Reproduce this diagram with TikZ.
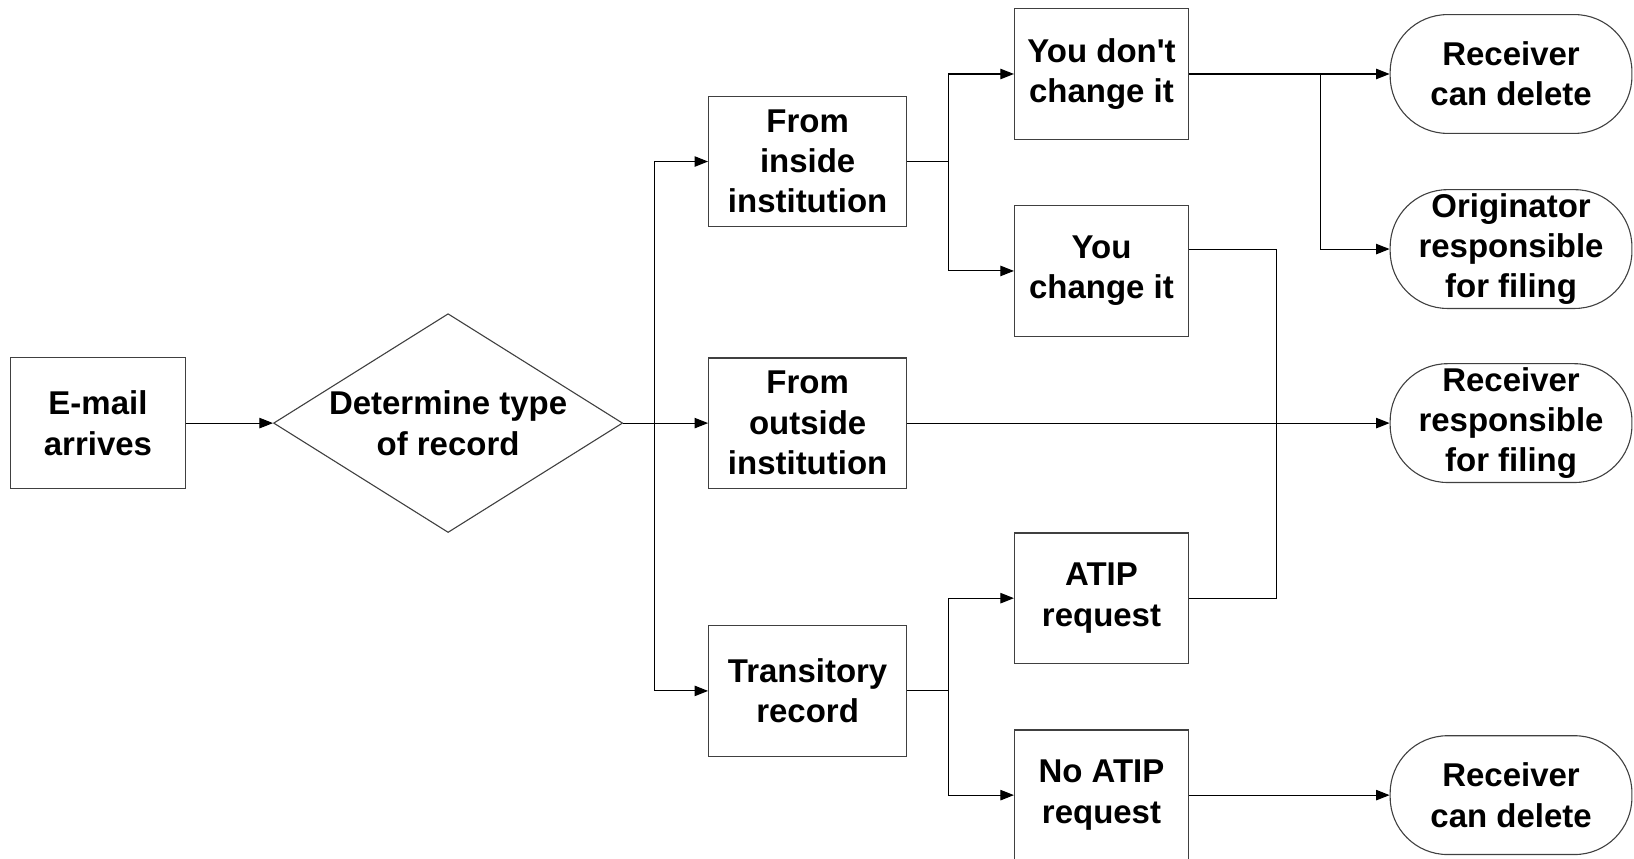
\documentclass[tikz,border=0pt]{standalone}
\usepackage{fontspec}
\setmainfont{Liberation Sans}
\usepackage{tikz}
\usetikzlibrary{arrows.meta,positioning,calc,shapes.geometric}
\definecolor{ink}{HTML}{000000}
\definecolor{rim}{HTML}{404040}
\tikzset{
  box/.style={draw=rim,line width=0.6pt,fill=white,align=center,
    font=\fontsize{18}{22}\selectfont\bfseries,
    minimum width=3.8cm,minimum height=2.5cm,inner sep=2pt},
  actbox/.style={box,minimum width=3.34cm},
  decision/.style={box,diamond,aspect=1.6,minimum width=6.7cm,minimum height=4.2cm,inner sep=0pt},
  endbox/.style={box,rounded corners=1.1cm,minimum width=4.64cm,minimum height=2.28cm},
  arr/.style={-{Triangle[length=2.6mm,width=2mm]},line width=0.6pt,draw=ink},
  wire/.style={line width=0.6pt,draw=ink},
}
\begin{document}
\begin{tikzpicture}[x=1cm,y=1cm]
  \useasboundingbox (0,0) rectangle (31.36,-16.48);
  \node[box,minimum width=3.36cm,minimum height=2.52cm] (mail) at (1.88,-8.12) {E-mail\\arrives};
  \node[decision] (decide) at (8.60,-8.12) {Determine type\\of record};
  \node[box] (inside) at (15.50,-3.10) {From\\inside\\institution};
  \node[box] (outside) at (15.50,-8.12) {From\\outside\\institution};
  \node[box] (trans) at (15.50,-13.26) {Transitory\\record};
  \node[actbox] (keep) at (21.14,-1.42) {You don\textquotesingle t\\change it};
  \node[actbox] (edit) at (21.14,-5.20) {You\\change it};
  \node[actbox] (atip) at (21.14,-11.48) {ATIP\\request};
  \node[actbox] (noatip) at (21.14,-15.26) {No ATIP\\request};
  \node[endbox] (delA) at (29.00,-1.42) {Receiver\\can delete};
  \node[endbox] (orig) at (29.00,-4.78) {Originator\\responsible\\for filing};
  \node[endbox] (recv) at (29.00,-8.12) {Receiver\\responsible\\for filing};
  \node[endbox] (delB) at (29.00,-15.26) {Receiver\\can delete};
  % junction points
  \coordinate (split) at (12.56,-8.12);
  \coordinate (jin) at (18.20,-3.10);
  \coordinate (jtr) at (18.20,-13.26);
  \coordinate (jkeep) at (25.34,-1.42);
  \draw[arr] (mail) -- (decide);
  \draw[arr] (decide.east) -- (outside.west);
  \draw[arr] (split) |- (inside.west);
  \draw[arr] (split) |- (trans.west);
  \draw[wire] (inside.east) -- (jin);
  \draw[arr] (jin) |- (keep.west);
  \draw[arr] (jin) |- (edit.west);
  \draw[wire] (trans.east) -- (jtr);
  \draw[arr] (jtr) |- (atip.west);
  \draw[arr] (jtr) |- (noatip.west);
  \draw[arr] (keep.east) -- (delA.west);
  \draw[arr] (jkeep) |- (orig.west);
  \draw[wire] ([yshift=4.2mm]edit.east) -- ++(1.68,0) |- (atip.east);
  \draw[arr] (outside.east) -- (recv.west);
  \draw[arr] (noatip.east) -- (delB.west);
\end{tikzpicture}
\end{document}
